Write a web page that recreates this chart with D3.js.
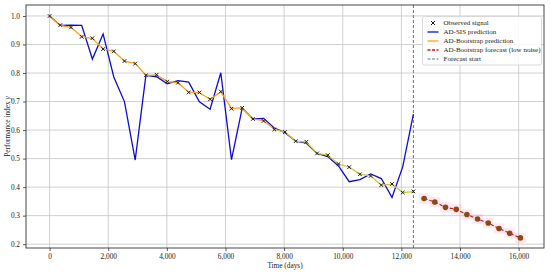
<!DOCTYPE html>
<html>
<head>
<meta charset="utf-8">
<script src="https://cdn.jsdelivr.net/npm/d3@7"></script>
<style>
  body { margin: 0; background: #fff; }
  svg { display: block; font-family: "Liberation Serif", "DejaVu Serif", serif; }
</style>
</head>
<body>
<svg id="chart_svg" width="550" height="272"></svg>
<script>
var obsDays = d3.range(0, 35).map(function (i) { return i * 365; });
var observed = [1.000, 0.968, 0.960, 0.927, 0.922, 0.884, 0.876, 0.842, 0.833, 0.792,
                0.794, 0.770, 0.766, 0.732, 0.732, 0.708, 0.735, 0.675, 0.678, 0.639,
                0.632, 0.602, 0.593, 0.561, 0.559, 0.518, 0.512, 0.481, 0.470, 0.445,
                0.439, 0.407, 0.411, 0.381, 0.385];
var sisPred = [1.000, 0.967, 0.968, 0.967, 0.849, 0.937, 0.786, 0.699, 0.495, 0.792,
               0.787, 0.762, 0.773, 0.768, 0.699, 0.673, 0.801, 0.496, 0.677, 0.639,
               0.641, 0.607, 0.591, 0.561, 0.554, 0.518, 0.507, 0.474, 0.419, 0.426,
               0.446, 0.430, 0.364, 0.471, 0.656];
var bootPred = [0.999, 0.967, 0.960, 0.928, 0.921, 0.885, 0.876, 0.842, 0.834, 0.792,
                0.793, 0.770, 0.766, 0.733, 0.731, 0.708, 0.734, 0.676, 0.678, 0.639,
                0.633, 0.602, 0.593, 0.561, 0.558, 0.518, 0.512, 0.481, 0.470, 0.445,
                0.440, 0.407, 0.410, 0.381, 0.384];
var forecastDays = d3.range(35, 45).map(function (i) { return i * 365; });
var forecast = [0.360, 0.348, 0.329, 0.322, 0.304, 0.288, 0.274, 0.255, 0.238, 0.222];
var forecastBand = 0.018;
var forecastStart = 12410;

var xTicks = [0, 2000, 4000, 6000, 8000, 10000, 12000, 14000, 16000];
var yTicks = [0.2, 0.3, 0.4, 0.5, 0.6, 0.7, 0.8, 0.9, 1.0];

var legendItems = ["Observed signal", "AD-SIS prediction", "AD-Bootstrap prediction",
                   "AD-Bootstrap forecast (low noise)", "Forecast start"];

var svg = d3.select("#chart_svg");
var margin = { left: 26, top: 5, right: 6, bottom: 24 };
var W = 550, H = 272;

var xScale = d3.scaleLinear().domain([-805, 16865]).range([margin.left, W - margin.right]);
var yScale = d3.scaleLinear().domain([0.1865, 1.0385]).range([H - margin.bottom, margin.top]);

var defs = svg.append("defs");
defs.append("clipPath").attr("id", "plotclip")
    .append("rect")
    .attr("x", margin.left).attr("y", margin.top)
    .attr("width", W - margin.left - margin.right)
    .attr("height", H - margin.top - margin.bottom);

// orange line turns yellowish in the later part
var grad = defs.append("linearGradient").attr("id", "bootgrad")
    .attr("gradientUnits", "userSpaceOnUse")
    .attr("x1", xScale(0)).attr("x2", xScale(forecastStart)).attr("y1", 0).attr("y2", 0);
grad.append("stop").attr("offset", "0%").attr("stop-color", "#ffa21a");
grad.append("stop").attr("offset", "58%").attr("stop-color", "#ff9f1c");
grad.append("stop").attr("offset", "66%").attr("stop-color", "#d8c636");
grad.append("stop").attr("offset", "100%").attr("stop-color", "#cfc93a");

// grid
svg.append("g").selectAll("line.gx").data(xTicks).join("line")
    .attr("x1", d => xScale(d)).attr("x2", d => xScale(d))
    .attr("y1", margin.top).attr("y2", H - margin.bottom)
    .attr("stroke", "#c4c4c4").attr("stroke-width", 0.8);
svg.append("g").selectAll("line.gy").data(yTicks).join("line")
    .attr("x1", margin.left).attr("x2", W - margin.right)
    .attr("y1", d => yScale(d)).attr("y2", d => yScale(d))
    .attr("stroke", "#c4c4c4").attr("stroke-width", 0.8);

var plot = svg.append("g").attr("clip-path", "url(#plotclip)");

// forecast uncertainty band
plot.selectAll("rect.band").data(forecast).join("rect")
    .attr("x", (d, i) => xScale(forecastDays[i] - 182))
    .attr("width", xScale(365) - xScale(0))
    .attr("y", d => yScale(d + forecastBand))
    .attr("height", d => yScale(d - forecastBand) - yScale(d + forecastBand))
    .attr("fill", "#ff69b4").attr("opacity", 0.16);

// forecast start line
plot.append("line")
    .attr("x1", xScale(forecastStart)).attr("x2", xScale(forecastStart))
    .attr("y1", margin.top).attr("y2", H - margin.bottom)
    .attr("stroke", "#707070").attr("stroke-width", 1).attr("stroke-dasharray", "3,2");

var line = d3.line().x(d => xScale(d[0])).y(d => yScale(d[1]));

// AD-SIS prediction
plot.append("path")
    .datum(obsDays.map((d, i) => [d, sisPred[i]]))
    .attr("d", line).attr("fill", "none")
    .attr("stroke", "#0c0cd4").attr("stroke-width", 1.3);

// AD-Bootstrap prediction
plot.append("path")
    .datum(obsDays.map((d, i) => [d, bootPred[i]]))
    .attr("d", line).attr("fill", "none")
    .attr("stroke", "url(#bootgrad)").attr("stroke-width", 1.3);

// forecast
plot.append("path")
    .datum(forecastDays.map((d, i) => [d, forecast[i]]))
    .attr("d", line).attr("fill", "none")
    .attr("stroke", "#e01010").attr("stroke-width", 1.1).attr("stroke-dasharray", "3.5,2");
plot.selectAll("circle.fc").data(forecast).join("circle")
    .attr("cx", (d, i) => xScale(forecastDays[i]))
    .attr("cy", d => yScale(d))
    .attr("r", 2.8).attr("fill", "#8b4a13");

// observed markers
function xMark(g, cx, cy, s) {
    g.append("path")
        .attr("d", `M${cx - s},${cy - s}L${cx + s},${cy + s}M${cx - s},${cy + s}L${cx + s},${cy - s}`)
        .attr("stroke", "#1a1a1a").attr("stroke-width", 1).attr("fill", "none");
}
var obsG = plot.append("g");
observed.forEach(function (v, i) {
    xMark(obsG, xScale(obsDays[i]), yScale(v), 1.8);
});

// frame
svg.append("rect")
    .attr("x", margin.left).attr("y", margin.top)
    .attr("width", W - margin.left - margin.right)
    .attr("height", H - margin.top - margin.bottom)
    .attr("fill", "none").attr("stroke", "#333").attr("stroke-width", 0.9);

// axes
var xAxis = svg.append("g")
    .attr("transform", `translate(0, ${H - margin.bottom})`)
    .call(d3.axisBottom(xScale).tickValues(xTicks).tickSize(3).tickPadding(3)
        .tickFormat(d3.format(",")));
var yAxis = svg.append("g")
    .attr("transform", `translate(${margin.left}, 0)`)
    .call(d3.axisLeft(yScale).tickValues(yTicks).tickSize(3).tickPadding(3)
        .tickFormat(d3.format(".1f")));
[xAxis, yAxis].forEach(function (a) {
    a.select(".domain").remove();
    a.selectAll("line").attr("stroke", "#333").attr("stroke-width", 0.8);
    a.selectAll("text").attr("font-family", "Liberation Serif, serif")
        .attr("font-size", "7.3px").attr("fill", "#222");
});

// axis labels
svg.append("text")
    .attr("x", (margin.left + W - margin.right) / 2).attr("y", 268)
    .attr("text-anchor", "middle").attr("font-size", "7.3px").attr("fill", "#222")
    .text("Time (days)");
var ylab = svg.append("text")
    .attr("transform", `translate(10, ${(margin.top + H - margin.bottom) / 2}) rotate(-90)`)
    .attr("text-anchor", "middle").attr("font-size", "7.3px").attr("fill", "#222");
ylab.append("tspan").text("Performance index ");
ylab.append("tspan").attr("font-style", "italic").text("y");

// legend
var lg = svg.append("g").attr("transform", "translate(422.5, 16.5)");
lg.append("rect").attr("width", 119).attr("height", 48.5).attr("rx", 2)
    .attr("fill", "#fff").attr("fill-opacity", 0.85)
    .attr("stroke", "#d0d0d0").attr("stroke-width", 0.8);
var rowY = d => 6.5 + d * 9;
xMark(lg, 10.5, rowY(0), 2);
lg.append("line").attr("x1", 5).attr("x2", 16).attr("y1", rowY(1)).attr("y2", rowY(1))
    .attr("stroke", "#0c0cd4").attr("stroke-width", 1.3);
lg.append("line").attr("x1", 5).attr("x2", 16).attr("y1", rowY(2)).attr("y2", rowY(2))
    .attr("stroke", "#ffa21a").attr("stroke-width", 1.3);
lg.append("line").attr("x1", 5).attr("x2", 16).attr("y1", rowY(3)).attr("y2", rowY(3))
    .attr("stroke", "#e01010").attr("stroke-width", 1.3).attr("stroke-dasharray", "3,1.5");
lg.append("line").attr("x1", 5).attr("x2", 16).attr("y1", rowY(4)).attr("y2", rowY(4))
    .attr("stroke", "#707070").attr("stroke-width", 1).attr("stroke-dasharray", "3,1.5");
lg.selectAll("text.lt").data(legendItems).join("text")
    .attr("x", 21).attr("y", (d, i) => rowY(i)).attr("dy", "0.33em")
    .attr("font-size", "7px").attr("fill", "#222")
    .text(d => d);
</script>
</body>
</html>
